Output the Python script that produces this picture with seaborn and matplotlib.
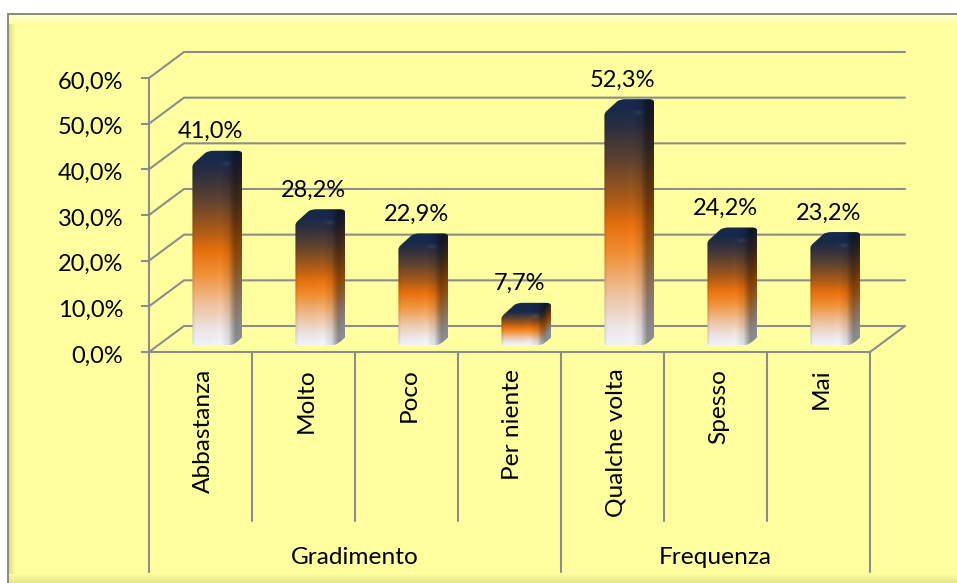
import numpy as np
import pandas as pd
import seaborn as sns
import matplotlib.pyplot as plt
from matplotlib.colors import LinearSegmentedColormap
from matplotlib.patches import PathPatch
from matplotlib.path import Path
from matplotlib.transforms import ScaledTranslation

categorie = ['Abbastanza', 'Molto', 'Poco', 'Per niente', 'Qualche volta', 'Spesso', 'Mai']
valori = [41.0, 28.2, 22.9, 7.7, 52.3, 24.2, 23.2]
etichette = ['41,0%', '28,2%', '22,9%', '7,7%', '52,3%', '24,2%', '23,2%']
gruppi = ['Gradimento', 'Frequenza']
gruppi_pos = [1.5, 5.0]
yticks = [0, 10, 20, 30, 40, 50, 60]
ytick_labels = ['0,0%', '10,0%', '20,0%', '30,0%', '40,0%', '50,0%', '60,0%']

W, H = 957, 583
GRIGIO = '#8c8c8c'
LW = 1.5
FS_NUM = 17
FS_TXT = 17.6

sns.set_theme(style='white')
plt.rcParams['font.family'] = ['Lato', 'DejaVu Sans']

fig = plt.figure(figsize=(W / 100, H / 100), dpi=100, facecolor='white')

# sfondo giallo con cornice smussata
sfondo = np.ones((H, W, 3))
giallo = np.array([255, 255, 160]) / 255
sfondo[15:, 9:] = giallo
for i in range(9):
    a = 1 - i / 9
    sfondo[15 + i, 9:] = giallo + (np.array([255, 255, 205]) / 255 - giallo) * a
    sfondo[H - 1 - i, 9:] = giallo + (np.array([232, 232, 140]) / 255 - giallo) * a
for i in range(6):
    a = 1 - i / 6
    sfondo[24:H - 9, 9 + i] = giallo + (np.array([225, 225, 130]) / 255 - giallo) * a
sfondo[13:15, 7:] = np.array([140, 140, 130]) / 255
sfondo[13:, 7:9] = np.array([140, 140, 130]) / 255
ax_bg = fig.add_axes([0, 0, 1, 1], zorder=0)
ax_bg.imshow(sfondo, aspect='auto', interpolation='nearest')
ax_bg.axis('off')

ax = fig.add_axes([149 / W, (H - 352) / H, 721 / W, 274 / H], zorder=1)
ax.patch.set_alpha(0)

df = pd.DataFrame({'categoria': categorie, 'valore': valori})
sns.barplot(data=df, x='categoria', y='valore', width=0.39, ax=ax, color='white')
ax.set_xlim(-0.5, 6.5)
ax.set_ylim(0, 60)

# quanto vale un pixel in unita' dati
px_x = 7 / 721
px_y = 60 / 274

# griglia sulla parete di fondo + diagonali
x0, x1 = -0.5, 6.5
dx, dy = 35 * px_x, 26 * px_y
for t in yticks:
    ax.plot([x0, x0 + dx, x1 + dx], [t, t + dy, t + dy], color=GRIGIO, lw=LW, clip_on=False, zorder=1, solid_joinstyle='miter')
ax.plot([x1, x1 + dx], [0, dy], color=GRIGIO, lw=LW, clip_on=False, zorder=1)

# separatori sotto l'asse
for i in range(8):
    sotto = 220 if i in (0, 4, 7) else 169
    ax.plot([i - 0.5, i - 0.5], [0, -sotto * px_y], color=GRIGIO, lw=LW, clip_on=False, zorder=1)

cmap = LinearSegmentedColormap.from_list('barra', [
    (0.00, '#f0f2fa'), (0.08, '#ebe4e4'), (0.22, '#eec09a'), (0.38, '#f09035'),
    (0.50, '#e8700e'), (0.62, '#a85a18'), (0.78, '#5e4230'), (0.92, '#2c2e40'),
    (1.00, '#17294a')])


def immagine_barra(altezza, rialzo=14, largo=40, lato=10):
    # altezza = pixel della faccia frontale
    righe = altezza + rialzo
    yy, xx = np.mgrid[righe - 1:-1:-1, 0:largo + lato]
    slant = np.clip(xx - largo, 0, None) * 1.4
    t = np.clip((yy - slant) / (altezza + 5), 0, 1)
    # faccia superiore sempre blu scuro
    t = np.where(yy - slant > altezza + 3, 1.0, t)
    img = cmap(t)[:, :, :3]
    ombra = 1 - 0.10 * np.clip((xx - 22) / 18, 0, 1) + 0.05 * np.exp(-((xx - 28) / 4.0) ** 2)
    ombra = ombra * (1 - 0.36 * np.clip((xx - largo + 4) / 7, 0, 1))
    ombra = ombra * (1 - 0.10 * np.clip((3 - xx) / 3, 0, 1))
    img = np.clip(img * ombra[:, :, None], 0, 1)
    # piccolo riflesso sullo spigolo alto
    riflesso = np.exp(-((xx - 34) / 4.0) ** 2 - ((yy - altezza) / 2.0) ** 2)
    img = np.clip(img + 0.07 * riflesso[:, :, None], 0, 1)
    return img


def sagoma(L, B, TF, TB, R, S):
    # coordinate in pixel relative alla barra, poi convertite in dati
    verts = [(L + 2, B), (R - 2, B), (R + 2, B), (S - 1, B + 7), (S, B + 8), (S, B + 10),
             (S, TB - 4), (S, TB), (S - 5, TB), (L + 21, TB), (L + 16, TB), (L + 13, TB - 2),
             (L + 2, TF + 2), (L, TF), (L, TF - 2), (L, B + 2), (L, B), (L + 2, B)]
    codes = [Path.MOVETO, Path.LINETO, Path.CURVE3, Path.CURVE3, Path.LINETO, Path.LINETO,
             Path.LINETO, Path.CURVE3, Path.CURVE3, Path.LINETO, Path.CURVE3, Path.CURVE3,
             Path.LINETO, Path.CURVE3, Path.CURVE3, Path.LINETO, Path.CURVE3, Path.CURVE3]
    return Path(verts, codes)


# le barre di seaborn danno la geometria, il disegno e' il gradiente
for p, testo in zip(ax.patches, etichette):
    p.set_visible(False)
    v = p.get_height()
    L = p.get_x() / px_x + 12
    R = L + 40
    S = R + 10
    B = 7
    TF = v / px_y
    TB = TF + 14
    img = immagine_barra(int(round(TF - B)))
    im = ax.imshow(img, extent=[L * px_x, S * px_x, B * px_y, TB * px_y], aspect='auto',
                   interpolation='bilinear', zorder=3, clip_on=True)
    path = sagoma(L, B, TF, TB, R, S)
    path = Path(path.vertices * [px_x, px_y], path.codes)
    clip = PathPatch(path, transform=ax.transData, facecolor='none', edgecolor='none')
    ax.add_patch(clip)
    im.set_clip_path(clip)
    ax.annotate(testo, (p.get_x() + p.get_width() / 2 + 10 * px_x, v), xytext=(0, 33 * 0.72),
                textcoords='offset points', ha='center', va='center', color='black',
                fontsize=FS_NUM, zorder=5, annotation_clip=False)

ax.set_xlim(-0.5, 6.5)
ax.set_ylim(0, 60)

# assi
for lato in ['top', 'right']:
    ax.spines[lato].set_visible(False)
for lato in ['left', 'bottom']:
    ax.spines[lato].set_color(GRIGIO)
    ax.spines[lato].set_linewidth(LW)
ax.set_xlabel('')
ax.set_ylabel('')
ax.set_yticks(yticks)
ax.set_yticklabels(ytick_labels, color='black', fontsize=FS_NUM)
ax.tick_params(axis='y', length=6, width=LW, color=GRIGIO, pad=12.5, left=True)
ax.set_xticks(range(len(categorie)))
ax.set_xticklabels(categorie, rotation=90, color='black', fontsize=FS_TXT, va='top', ha='center')
ax.tick_params(axis='x', length=0, pad=12)

# piccoli spostamenti delle etichette, in pixel
for lab in ax.get_yticklabels():
    lab.set_transform(lab.get_transform() + ScaledTranslation(0, -2 / 100, fig.dpi_scale_trans))
for lab in ax.get_xticklabels():
    lab.set_transform(lab.get_transform() + ScaledTranslation(3 / 100, 0, fig.dpi_scale_trans))

for nome, pos in zip(gruppi, gruppi_pos):
    ax.text(pos, -206 * px_y, nome, ha='center', va='center', color='black', fontsize=FS_TXT, clip_on=False)

fig.savefig('out.png', dpi=100, facecolor='white')
